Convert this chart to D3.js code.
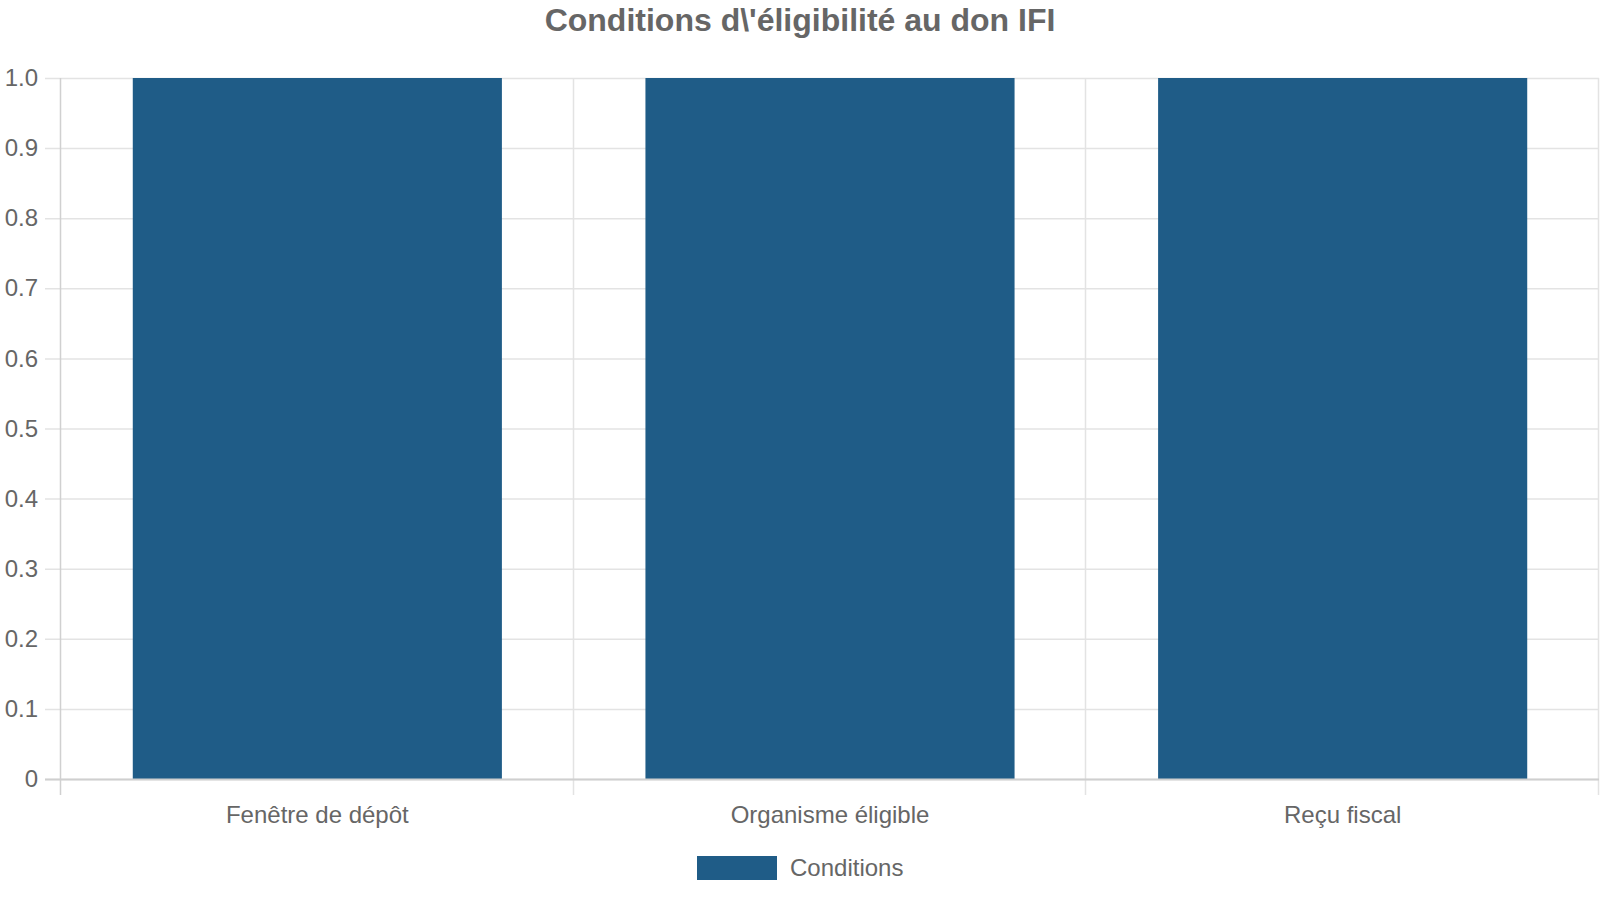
<!DOCTYPE html>
<html>
<head>
<meta charset="utf-8">
<script src="https://cdn.jsdelivr.net/npm/d3@7"></script>
<style>
  body { margin: 0; background: #fff; }
  svg { display: block; font-family: "Liberation Sans", Arial, sans-serif; }
</style>
</head>
<body>
<svg id="chart" width="1600" height="900"></svg>
<script>
// data
var categories = ["Fenêtre de dépôt", "Organisme éligible", "Reçu fiscal"];
var values = [1, 1, 1];
var seriesName = "Conditions";
var yTicks = [0, 0.1, 0.2, 0.3, 0.4, 0.5, 0.6, 0.7, 0.8, 0.9, 1.0];

var width = 1600, height = 900;
var margin = {top: 78, right: 1, bottom: 121, left: 61};
var barColor = "#1f5c87";
var textColor = "#666";
var plotW = width - margin.right - margin.left;

var svg = d3.select("#chart");

// scales
var x = d3.scaleBand()
  .domain(categories)
  .range([margin.left, width - margin.right])
  .paddingInner(0).paddingOuter(0);
var y = d3.scaleLinear()
  .domain([0, 1])
  .range([height - margin.bottom, margin.top]);

// horizontal grid (from right edge back to 16px left of the axis)
var yGrid = d3.axisLeft(y)
  .tickValues(yTicks)
  .tickSize(plotW + 16)
  .tickFormat("");
svg.append("g")
  .attr("transform", "translate(" + (width - margin.right) + ",0)")
  .call(yGrid)
  .call(function(g){
    g.select(".domain").remove();
    g.selectAll("line").attr("stroke", "#e3e3e3").attr("stroke-width", 1.5);
  });

// vertical grid at category boundaries
var bounds = categories.map(function(c){ return x(c); }).concat([x(categories[categories.length - 1]) + x.bandwidth()]);
svg.append("g").selectAll("line")
  .data(bounds)
  .enter().append("line")
  .attr("x1", function(d){ return Math.round(d) - 0.5; })
  .attr("x2", function(d){ return Math.round(d) - 0.5; })
  .attr("y1", margin.top)
  .attr("y2", height - margin.bottom + 16)
  .attr("stroke", function(d, i){ return i === 0 ? "#d0d0d0" : "#e3e3e3"; })
  .attr("stroke-width", 1.5);

// bars
var barW = x.bandwidth() * 0.72;
svg.append("g").selectAll("rect")
  .data(values)
  .enter().append("rect")
  .attr("x", function(d, i){ return x(categories[i]) + (x.bandwidth() - barW) / 2; })
  .attr("y", function(d){ return y(d); })
  .attr("width", barW)
  .attr("height", function(d){ return y(0) - y(d); })
  .attr("fill", barColor);

// x axis line
svg.append("line")
  .attr("x1", margin.left - 16).attr("x2", width - margin.right)
  .attr("y1", y(0) + 0.5).attr("y2", y(0) + 0.5)
  .attr("stroke", "#cfcfcf").attr("stroke-width", 2);

// y axis labels
var yAxis = d3.axisLeft(y)
  .tickValues(yTicks)
  .tickSize(0)
  .tickPadding(0)
  .tickFormat(function(d){ return d === 0 ? "0" : d3.format(".1f")(d); });
svg.append("g")
  .attr("transform", "translate(" + 38 + ",0)")
  .call(yAxis)
  .call(function(g){
    g.select(".domain").remove();
    g.selectAll("text")
      .attr("fill", textColor)
      .style("font-size", "24px")
      .style("font-family", "'Liberation Sans', Arial, sans-serif");
  });

// x axis labels
var xAxis = d3.axisBottom(x).tickSize(0).tickPadding(0);
svg.append("g")
  .attr("transform", "translate(0," + (y(0) + 27) + ")")
  .call(xAxis)
  .call(function(g){
    g.select(".domain").remove();
    g.selectAll("text")
      .attr("fill", textColor)
      .attr("dy", "0.71em")
      .style("font-size", "24px")
      .style("font-family", "'Liberation Sans', Arial, sans-serif");
  });

// title
svg.append("text")
  .attr("x", width / 2)
  .attr("y", 31)
  .attr("text-anchor", "middle")
  .attr("fill", textColor)
  .style("font-size", "32px")
  .style("font-weight", "bold")
  .text("Conditions d\\'éligibilité au don IFI");

// legend
var legend = svg.append("g").attr("transform", "translate(697,856)");
legend.append("rect")
  .attr("width", 80).attr("height", 24)
  .attr("fill", barColor);
legend.append("text")
  .attr("x", 93).attr("y", 12)
  .attr("dy", "0.35em")
  .attr("fill", textColor)
  .style("font-size", "24px")
  .text(seriesName);
</script>
</body>
</html>
